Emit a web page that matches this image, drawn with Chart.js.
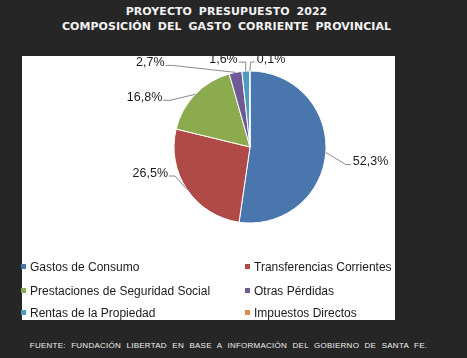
<!DOCTYPE html>
<html>
<head>
<meta charset="utf-8">
<script src="https://cdn.jsdelivr.net/npm/chart.js@4"></script>
<style>
  body { margin: 0; width: 467px; height: 358px; background: #262626; position: relative; overflow: hidden; font-family: "Liberation Sans", Arial, sans-serif; }
  #title { position: absolute; left: 0; top: 4px; width: 453px; text-align: center; color: #f2f2f2; font: bold 11px "DejaVu Sans", Verdana, sans-serif; line-height: 15px; word-spacing: 3px; letter-spacing: 0.05px; }
  #panel { position: absolute; left: 22px; top: 56px; width: 373px; height: 264px; background: #fff; }
  #chartBox { position: absolute; left: 0; top: 0; width: 373px; height: 200px; }
  #legend { position: absolute; left: 0; top: 0; width: 373px; height: 264px; }
  .item { position: absolute; font-size: 12px; color: #1a1a1a; line-height: 14px; white-space: nowrap; }
  .item span { display: inline-block; width: 5px; height: 5px; margin-right: 4px; vertical-align: 2px; }
  #footer { position: absolute; left: 0; top: 341px; width: 457px; text-align: center; color: #f0f0f0; font-size: 8px; word-spacing: 3px; letter-spacing: 0.25px; }
</style>
</head>
<body>
<div id="title">PROYECTO PRESUPUESTO 2022<br>COMPOSICIÓN DEL GASTO CORRIENTE PROVINCIAL</div>
<div id="panel">
  <div id="chartBox"><canvas id="pie"></canvas></div>
  <div id="legend"></div>
</div>
<div id="footer">FUENTE: FUNDACIÓN LIBERTAD EN BASE A INFORMACIÓN DEL GOBIERNO DE SANTA FE.</div>
<script>
// Datos del grafico
const categorias = ['Gastos de Consumo', 'Transferencias Corrientes', 'Prestaciones de Seguridad Social',
                    'Otras Pérdidas', 'Rentas de la Propiedad', 'Impuestos Directos'];
const porcentajes = [52.3, 26.5, 16.8, 2.7, 1.6, 0.1];
const colores = ['#4a76ae', '#af4a47', '#8caa4e', '#6e5b96', '#4b9cc0', '#e08a45'];

// Lineas guia de las etiquetas: codo y final relativos al borde del sector
const guiaCodo = [[20, 12], [-12, -13.5], [-25, 6], [-63, -7], [0, -9], [1, -9]];
const guiaFin = [[25, 12], [-18, -13.5], [-32, 6], [-70, -7], [-7, -9], [5, -9]];

const etiquetas = {
    id: 'etiquetas',
    afterDatasetsDraw(chart) {
        const ctx = chart.ctx;
        const arcs = chart.getDatasetMeta(0).data;
        ctx.save();
        ctx.font = '12.5px "Liberation Sans", Arial, sans-serif';
        ctx.textBaseline = 'middle';
        arcs.forEach((arc, i) => {
            const mid = (arc.startAngle + arc.endAngle) / 2;
            const x0 = arc.x + arc.outerRadius * Math.cos(mid);
            const y0 = arc.y + arc.outerRadius * Math.sin(mid);
            const xe = x0 + guiaFin[i][0], ye = y0 + guiaFin[i][1];
            ctx.strokeStyle = '#8a8a8a';
            ctx.lineWidth = 1;
            ctx.beginPath();
            ctx.moveTo(x0, y0);
            ctx.lineTo(x0 + guiaCodo[i][0], y0 + guiaCodo[i][1]);
            ctx.lineTo(xe, ye);
            ctx.stroke();
            const derecha = guiaFin[i][0] > guiaCodo[i][0] || (guiaFin[i][0] === guiaCodo[i][0] && guiaFin[i][0] > 0);
            ctx.fillStyle = '#1a1a1a';
            ctx.textAlign = derecha ? 'left' : 'right';
            const txt = porcentajes[i].toFixed(1).replace('.', ',') + '%';
            ctx.fillText(txt, xe + (derecha ? 2 : -1), ye - 2.5);
        });
        ctx.restore();
    }
};

const chart = new Chart(document.getElementById('pie'), {
    type: 'pie',
    data: {
        labels: categorias,
        datasets: [{
            data: porcentajes,
            backgroundColor: colores,
            borderColor: '#ffffff',
            borderWidth: 1
        }]
    },
    options: {
        responsive: true,
        maintainAspectRatio: false,
        animation: false,
        radius: 76,
        layout: { padding: { top: 15, left: 152, right: 69, bottom: 33 } },
        plugins: {
            legend: { display: false },
            tooltip: { enabled: false }
        }
    },
    plugins: [etiquetas]
});

// Leyenda en dos columnas
const legend = document.getElementById('legend');
const colX = [-1, 223];
const filaY = [204, 228, 250];
categorias.forEach((cat, i) => {
    const div = document.createElement('div');
    div.className = 'item';
    div.style.left = colX[i % 2] + 'px';
    div.style.top = filaY[Math.floor(i / 2)] + 'px';
    div.innerHTML = '<span style="background:' + colores[i] + '"></span>' + cat;
    legend.appendChild(div);
});
</script>
</body>
</html>
